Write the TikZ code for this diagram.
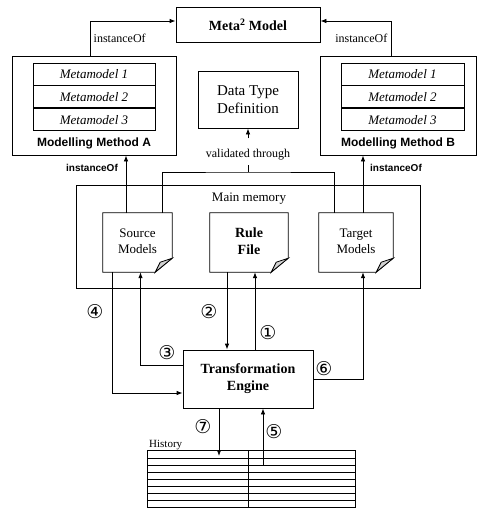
\documentclass[tikz,border=0pt]{standalone}
\usepackage{fontspec}
\setmainfont{Liberation Serif}
\setsansfont{Liberation Sans}
\newfontfamily\circfont{DejaVu Sans}
\usetikzlibrary{arrows.meta,positioning}

% folded page outline drawn round a (not drawn) node
\newcommand\docpage[1]{%
  \draw[thick] (#1.north west) -- (#1.north east) -- ([yshift=14pt]#1.south east)
    -- ([xshift=-17pt]#1.south east) -- (#1.south west) -- cycle;
  \filldraw[thick,fill=gray!35] ([yshift=14pt]#1.south east)
    -- ([xshift=-12pt,yshift=10pt]#1.south east) -- ([xshift=-17pt]#1.south east) -- cycle;
}

\begin{document}
\begin{tikzpicture}[x=1pt,y=-1pt,
  box/.style={draw,thick,inner sep=0pt},
  mm/.style={box,minimum height=22pt,font=\fontsize{13}{15}\selectfont\itshape},
  doc/.style={inner sep=0pt,align=center},
  arr/.style={thick,-{Latex[length=6pt,width=4.5pt]}},
  num/.style={font=\circfont\fontsize{19}{19}\selectfont,inner sep=0pt}]
  \useasboundingbox (0,0) rectangle (477,508);

  % top level
  \node[box,minimum width=144pt,minimum height=35pt,font=\fontsize{14}{16}\selectfont\bfseries]
    (meta) at (248,24.5) {Meta\textsuperscript{2} Model};
  \node[box,minimum width=100pt,minimum height=57pt,align=center,font=\fontsize{15}{18}\selectfont]
    (dtd) at (248,99.5) {Data Type\\Definition};

  % modelling methods
  \node[box,minimum width=164pt,minimum height=99pt] (methA) at (94,105.5) {};
  \node[mm,minimum width=122pt] (mA1) at (94,74) {Metamodel 1};
  \node[mm,minimum width=122pt,below=0pt of mA1] (mA2) {Metamodel 2};
  \node[mm,minimum width=122pt,below=0pt of mA2] (mA3) {Metamodel 3};
  \node[font=\sffamily\bfseries\fontsize{12}{14}\selectfont] (labA) at (94,143) {Modelling Method A};

  \node[box,minimum width=156pt,minimum height=99pt] (methB) at (398,105.5) {};
  \node[mm,minimum width=123pt] (mB1) at (402.5,74) {Metamodel 1};
  \node[mm,minimum width=123pt,below=0pt of mB1] (mB2) {Metamodel 2};
  \node[mm,minimum width=123pt,below=0pt of mB2] (mB3) {Metamodel 3};
  \node[font=\sffamily\bfseries\fontsize{12}{14}\selectfont] (labB) at (398,143) {Modelling Method B};

  \draw[arr] ([xshift=-4pt]methA.north) |- ([yshift=3.5pt]meta.west)
    node[pos=0.25,right,font=\fontsize{12}{14}\selectfont] {instanceOf};
  \draw[arr] ([xshift=-7pt]methB.north) |- ([yshift=3.5pt]meta.east)
    node[pos=0.25,left,font=\fontsize{12}{14}\selectfont] {instanceOf};

  % main memory
  \node[box,minimum width=344pt,minimum height=103pt] (mem) at (248,236.5) {};
  \node[font=\fontsize{13}{15}\selectfont] (memlab) at (249,199) {Main memory};
  \node[doc,minimum width=69pt,minimum height=59pt,font=\fontsize{13}{16}\selectfont]
    (src) at (137.5,242.5) {\raisebox{6pt}{\begin{tabular}{@{}c@{}}Source\\Models\end{tabular}}};
  \node[doc,minimum width=78pt,minimum height=59pt,font=\fontsize{14}{17}\selectfont\bfseries]
    (rule) at (249,242.5) {\raisebox{6pt}{\begin{tabular}{@{}c@{}}Rule\\File\end{tabular}}};
  \node[doc,minimum width=74pt,minimum height=59pt,font=\fontsize{13}{16}\selectfont]
    (tgt) at (356,242.5) {\raisebox{6pt}{\begin{tabular}{@{}c@{}}Target\\Models\end{tabular}}};
  \docpage{src}
  \docpage{rule}
  \docpage{tgt}

  \draw[arr] ([xshift=-11.5pt]src.north) -- ([xshift=-11.5pt]src.north |- methA.south);
  \node[font=\sffamily\bfseries\fontsize{10}{12}\selectfont] (instA) at (92,168) {instanceOf};
  \draw[arr] ([xshift=7pt]tgt.north) -- ([xshift=7pt]tgt.north |- methB.south);
  \node[font=\sffamily\bfseries\fontsize{10}{12}\selectfont] (instB) at (396,168) {instanceOf};

  % validated through
  \coordinate (vt) at (248,172);
  \node[font=\fontsize{12}{14}\selectfont,inner sep=1pt] (vtl) at (248,155) {validated through};
  \draw[thick] ([xshift=24.5pt]src.north) |- (vt) -| ([xshift=-22pt]tgt.north);
  \draw[thick] (vt) -- ([yshift=-3pt]vtl.south);
  \draw[arr] ([yshift=10pt]vtl.north) -- (dtd.south);

  % engine
  \node[box,minimum width=130pt,minimum height=58pt,align=center,font=\fontsize{14}{17}\selectfont\bfseries]
    (eng) at (248,379) {Transformation\\Engine};

  \draw[arr] ([xshift=-25.5pt]src.south) |- ([yshift=-14pt]eng.west);
  \draw[arr] ([yshift=14pt]eng.west) -| ([xshift=3pt]src.south);
  \draw[arr] ([xshift=-22pt]rule.south) -- ([xshift=-22pt]rule.south |- eng.north);
  \draw[arr] ([xshift=7pt]eng.north) -- ([xshift=7pt]eng.north |- rule.south);
  \draw[arr] (eng.east) -| ([xshift=7pt]tgt.south);

  % history
  \node[inner sep=0pt,minimum width=207pt,minimum height=56pt] (hist) at (251.5,479) {};
  \node[font=\fontsize{11}{13}\selectfont,above right,inner sep=1pt] (histlab) at (148,451) {History};
  \draw[thick] (hist.north west) rectangle (hist.south east);
  \foreach \y in {458,465,472,479,486,493,500}
    \draw[thick] (148,\y) -- (355,\y);
  \draw[thick] (248,451) -- (248,507);
  \coordinate (h7) at (219,456);
  \coordinate (h5) at (263,465);
  \draw[arr] (eng.south -| h7) -- (h7);
  \draw[arr] (h5) -- (h5 |- eng.south);

  % step numbers
  \node[num] (n1) at (268,333) {①};
  \node[num] (n2) at (209,312) {②};
  \node[num] (n3) at (167,353) {③};
  \node[num] (n4) at (95,312) {④};
  \node[num] (n5) at (274,432) {⑤};
  \node[num] (n6) at (324,369) {⑥};
  \node[num] (n7) at (203,427) {⑦};
\end{tikzpicture}
\end{document}
